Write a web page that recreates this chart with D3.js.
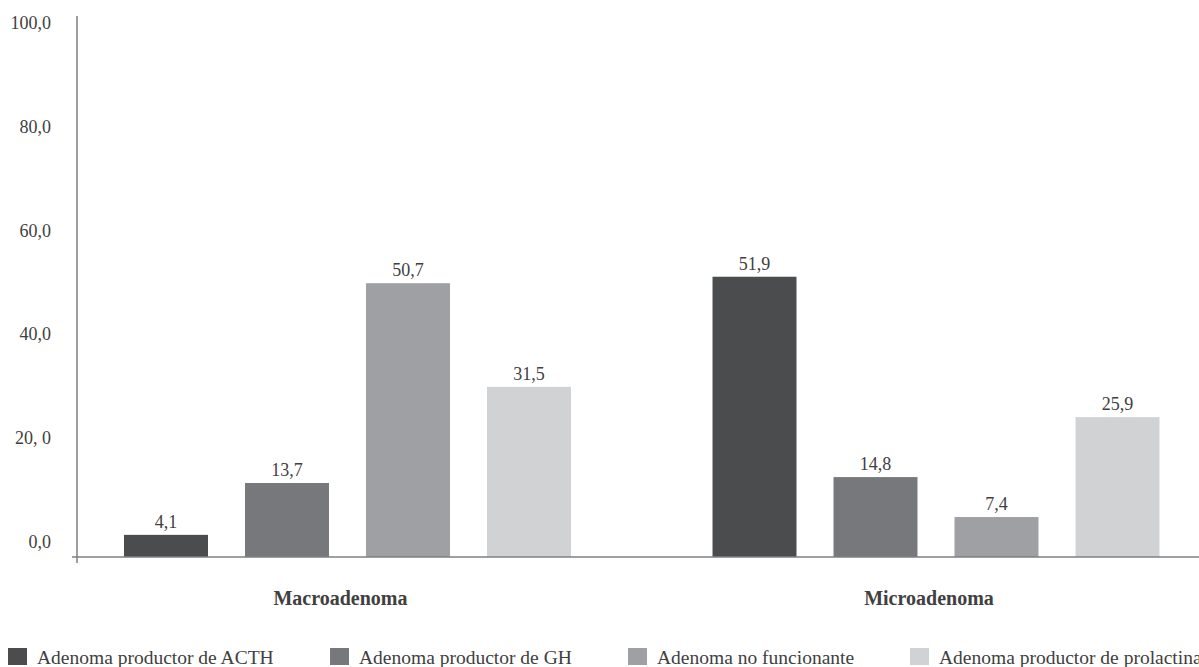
<!DOCTYPE html>
<html>
<head>
<meta charset="utf-8">
<script src="https://cdn.jsdelivr.net/npm/d3@7"></script>
<style>
  html, body { margin: 0; padding: 0; background: #fff; }
  svg { display: block; }
</style>
</head>
<body>
<svg id="chart" width="1199" height="667"></svg>
<script>
// Tumour size groups
const groups = ["Macroadenoma", "Microadenoma"];
// Adenoma types (series)
const series = [
  "Adenoma productor de ACTH",
  "Adenoma productor de GH",
  "Adenoma no funcionante",
  "Adenoma productor de prolactina"
];
// Percentages per group, in series order
const macroValues = [4.1, 13.7, 50.7, 31.5];
const microValues = [51.9, 14.8, 7.4, 25.9];
// Y tick values and their printed labels
const yTicks = [0, 20, 40, 60, 80, 100];
const yTickLabels = ["0,0", "20, 0", "40,0", "60,0", "80,0", "100,0"];

const colors = ["#4b4c4e", "#77787b", "#9fa0a3", "#d1d2d4"];
const valuesByGroup = { "Macroadenoma": macroValues, "Microadenoma": microValues };
const fmt = v => v.toFixed(1).replace(".", ",");
const FONT = "'Liberation Serif', 'Times New Roman', Times, serif";
const TEXT_COLOR = "#404040";

const svg = d3.select("#chart");
const axisX = 77, baseY = 557;

// Scales
const y = d3.scaleLinear().domain([0, 100]).range([baseY, 17]);
const yLabel = d3.scaleLinear().domain([0, 100]).range([542, 23]);
const x0 = d3.scaleBand().domain(groups).range([53.25, 1230.25]).padding(0);
const x1 = d3.scaleBand().domain(series).range([-242, 242]).paddingInner(0.306).paddingOuter(0.153);

function label(parent, px, py, size) {
  return parent.append("text")
    .attr("x", px).attr("y", py)
    .attr("font-family", FONT)
    .attr("font-size", size)
    .attr("fill", TEXT_COLOR);
}

// Y tick labels
const yl = svg.append("g");
yTicks.forEach((t, i) => {
  label(yl, 51, yLabel(t), 18)
    .attr("text-anchor", "end")
    .attr("dominant-baseline", "central")
    .text(yTickLabels[i]);
});

// Bars
const gGroups = svg.append("g").selectAll("g").data(groups).join("g")
  .attr("transform", d => `translate(${x0(d) + x0.bandwidth() / 2},0)`);

gGroups.selectAll("rect")
  .data(g => valuesByGroup[g].map((v, i) => ({ s: series[i], v, i })))
  .join("rect")
  .attr("x", d => x1(d.s))
  .attr("width", x1.bandwidth())
  .attr("y", d => y(d.v))
  .attr("height", d => y(0) - y(d.v))
  .attr("fill", d => colors[d.i]);

// Value labels
gGroups.each(function (g) {
  const grp = d3.select(this);
  valuesByGroup[g].forEach((v, i) => {
    label(grp, x1(series[i]) + x1.bandwidth() / 2, y(v) - 7, 18)
      .attr("text-anchor", "middle")
      .text(fmt(v));
  });
});

// Axis lines
svg.append("line")
  .attr("x1", axisX).attr("x2", axisX)
  .attr("y1", y(100) - 1).attr("y2", baseY + 6)
  .attr("stroke", "#7f7f7f").attr("stroke-width", 1.5);
svg.append("line")
  .attr("x1", axisX - 5).attr("x2", 1199)
  .attr("y1", baseY).attr("y2", baseY)
  .attr("stroke", "#7f7f7f").attr("stroke-width", 1.5);

// Category labels
groups.forEach(g => {
  label(svg, x0(g) + x0.bandwidth() / 2 - 7, 605, 20)
    .attr("text-anchor", "middle")
    .attr("font-weight", "bold")
    .text(g);
});

// Legend
const legendX = [8, 330, 628, 910];
series.forEach((s, i) => {
  svg.append("rect")
    .attr("x", legendX[i]).attr("y", 648)
    .attr("width", 19).attr("height", 17)
    .attr("fill", colors[i]);
  label(svg, legendX[i] + 29, 664, 19.5).text(s);
});
</script>
</body>
</html>
